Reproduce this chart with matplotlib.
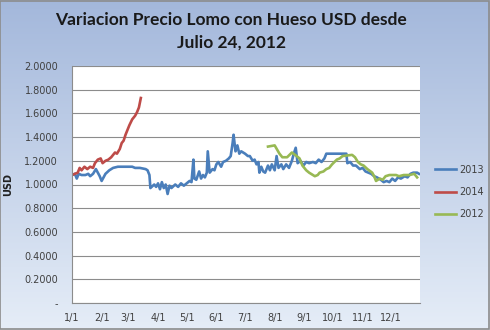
import numpy as np
import matplotlib
matplotlib.use("Agg")
import matplotlib.pyplot as plt

# day of year (0 = Jan 1) and price in USD for each season
days_2013 = [0, 3, 5, 7, 10, 14, 17, 19, 22, 25, 27, 29, 31, 33, 35, 39, 43, 48, 55, 63,
             66, 71, 77, 79, 81, 82, 86, 88, 90, 92, 94, 96, 98, 100, 102, 104, 108, 111,
             114, 117, 120, 123, 125, 127, 128, 130, 133, 135, 137, 139, 141, 142, 144,
             147, 149, 151, 153, 156, 158, 161, 164, 166, 168, 169, 171, 173, 175, 177,
             181, 184, 186, 189, 191, 193, 195, 196, 198, 200, 202, 205, 207, 209, 212,
             214, 216, 219, 221, 224, 227, 230, 232, 234, 236, 239, 242, 245, 248, 252,
             255, 258, 261, 264, 266, 275, 287, 288, 291, 294, 297, 301, 304, 307, 310,
             313, 316, 319, 323, 326, 329, 332, 335, 338, 341, 344, 348, 351, 354, 357,
             361, 363]
usd_2013 = [1.08, 1.09, 1.05, 1.09, 1.08, 1.08, 1.09, 1.07, 1.09, 1.13, 1.10, 1.07, 1.03,
            1.06, 1.09, 1.12, 1.14, 1.15, 1.15, 1.15, 1.14, 1.14, 1.13, 1.12, 1.08, 0.97,
            1.00, 0.98, 1.01, 0.96, 1.02, 0.97, 1.00, 0.92, 0.99, 0.97, 1.00, 0.98, 1.01,
            0.99, 1.01, 1.03, 1.02, 1.21, 1.05, 1.04, 1.11, 1.05, 1.08, 1.06, 1.10, 1.28,
            1.10, 1.13, 1.12, 1.17, 1.19, 1.15, 1.19, 1.20, 1.22, 1.24, 1.35, 1.42, 1.28,
            1.33, 1.26, 1.28, 1.26, 1.24, 1.24, 1.20, 1.21, 1.17, 1.19, 1.10, 1.15, 1.11,
            1.10, 1.16, 1.12, 1.17, 1.12, 1.24, 1.14, 1.17, 1.13, 1.17, 1.14, 1.20, 1.26,
            1.31, 1.18, 1.20, 1.16, 1.19, 1.18, 1.19, 1.18, 1.21, 1.19, 1.22, 1.26, 1.26,
            1.26, 1.18, 1.19, 1.16, 1.16, 1.13, 1.14, 1.11, 1.10, 1.09, 1.07, 1.06, 1.04,
            1.02, 1.03, 1.02, 1.05, 1.03, 1.06, 1.05, 1.07, 1.06, 1.09, 1.10, 1.10, 1.09]

days_2014 = [0, 3, 6, 8, 10, 13, 16, 19, 22, 24, 27, 30, 32, 35, 38, 41, 43, 45, 47, 50,
             52, 54, 56, 58, 60, 63, 66, 68, 70, 72]
usd_2014 = [1.08, 1.09, 1.10, 1.14, 1.12, 1.15, 1.13, 1.15, 1.14, 1.18, 1.21, 1.22, 1.18,
            1.20, 1.21, 1.23, 1.25, 1.27, 1.26, 1.30, 1.35, 1.37, 1.42, 1.46, 1.50, 1.55,
            1.58, 1.61, 1.65, 1.73]

days_2012 = [205, 212, 217, 220, 225, 230, 235, 238, 241, 245, 248, 254, 257, 259, 263,
             266, 269, 272, 277, 280, 283, 293, 296, 299, 302, 305, 309, 314, 316, 318,
             322, 325, 328, 332, 339, 342, 347, 353, 358, 361]
usd_2012 = [1.32, 1.33, 1.26, 1.23, 1.23, 1.27, 1.24, 1.22, 1.16, 1.12, 1.10, 1.07, 1.08,
            1.10, 1.11, 1.13, 1.14, 1.17, 1.21, 1.22, 1.24, 1.25, 1.23, 1.19, 1.17, 1.16,
            1.13, 1.10, 1.07, 1.03, 1.05, 1.04, 1.07, 1.08, 1.08, 1.07, 1.08, 1.08, 1.09,
            1.06]

month_days = [0, 31, 59, 90, 120, 151, 181, 212, 243, 273, 304, 334]
month_labels = ["1/1", "2/1", "3/1", "4/1", "5/1", "6/1", "7/1", "8/1", "9/1", "10/1",
                "11/1", "12/1"]
y_ticks = [0.0, 0.2, 0.4, 0.6, 0.8, 1.0, 1.2, 1.4, 1.6, 1.8, 2.0]

fig = plt.figure(figsize=(4.9, 3.3), dpi=100)

# gradient background
bg = fig.add_axes([0, 0, 1, 1], zorder=0)
top = np.array([0.64, 0.72, 0.86])
bottom = np.array([0.90, 0.93, 0.97])
t = np.linspace(0, 1, 256)[:, None]
grad = top[None, None, :] * (1 - t[:, :, None]) + bottom[None, None, :] * t[:, :, None]
grad = np.repeat(grad, 2, axis=1)
bg.imshow(grad, aspect="auto", extent=[0, 1, 0, 1])
bg.set_xlim(0, 1)
bg.set_ylim(0, 1)
bg.axis("off")
bg.add_patch(plt.Rectangle((0.001, 0.002), 0.997, 0.995, fill=False,
                           edgecolor="#8c8c8c", lw=1.2))

ax = fig.add_axes([72 / 490, 27 / 330, 348 / 490, 237 / 330], zorder=1)
ax.set_facecolor("white")
ax.plot(days_2013, usd_2013, color="#4a7ebb", lw=1.9, label="2013")
ax.plot(days_2014, usd_2014, color="#be4b48", lw=1.9, label="2014")
ax.plot(days_2012, usd_2012, color="#98b954", lw=1.9, label="2012")

ax.set_xlim(0, 364)
ax.set_ylim(0, 2.0)
ax.set_yticks(y_ticks)
ax.set_yticklabels(["-" if v == 0 else f"{v:.4f}" for v in y_ticks],
                   fontsize=7, color="#404040")
ax.set_xticks(month_days)
ax.set_xticklabels(month_labels, fontsize=7, color="#404040")
ax.tick_params(axis="both", length=0, pad=7)
ax.tick_params(axis="y", pad=10)
ax.grid(axis="y", color="#8c8c8c", lw=0.8)
ax.set_axisbelow(True)
for side in ["top", "right"]:
    ax.spines[side].set_visible(False)
ax.spines["left"].set_color("#8c8c8c")
ax.spines["bottom"].set_color("#8c8c8c")
ax.set_ylabel("USD", fontsize=7, fontweight="bold", color="#202020", labelpad=8)

fig.legend(loc="center left", bbox_to_anchor=(426 / 490, 1 - 192 / 330),
           frameon=False, fontsize=7, handlelength=2.2, labelspacing=1.25,
           handletextpad=0.3, labelcolor="#404040")

fig.text(231 / 490, 1 - 20 / 330, "Variacion Precio Lomo con Hueso USD desde",
         ha="center", va="center", fontsize=12.5, fontweight="bold",
         family="Lato", color="#1a1a1a")
fig.text(231 / 490, 1 - 43 / 330, "Julio 24, 2012",
         ha="center", va="center", fontsize=12.5, fontweight="bold",
         family="Lato", color="#1a1a1a")

fig.savefig("out.png", dpi=100)
